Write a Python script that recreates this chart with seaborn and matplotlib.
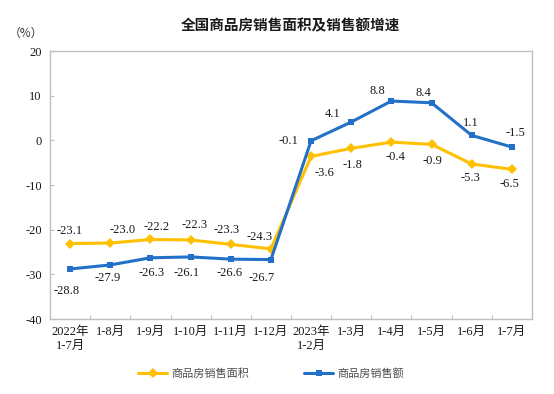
import matplotlib
matplotlib.use('Agg')
import matplotlib.pyplot as plt
import seaborn as sns
import pandas as pd
from matplotlib.ticker import FixedLocator

# ---- data ----
months = ["2022年\n1-7月", "1-8月", "1-9月", "1-10月", "1-11月", "1-12月",
          "2023年\n1-2月", "1-3月", "1-4月", "1-5月", "1-6月", "1-7月"]
area = [-23.1, -23.0, -22.2, -22.3, -23.3, -24.3, -3.6, -1.8, -0.4, -0.9, -5.3, -6.5]
amount = [-28.8, -27.9, -26.3, -26.1, -26.6, -26.7, -0.1, 4.1, 8.8, 8.4, 1.1, -1.5]
series_names = ["商品房销售面积", "商品房销售额"]
yticks = [20, 10, 0, -10, -20, -30, -40]
title = "全国商品房销售面积及销售额增速"
unit = "（%）"

# label offsets in pixels (styling only)
area_off = [(0, 13), (12, 13), (6, 12), (4, 15), (-4, 14), (-11, 12),
            (13, -17), (1, -17), (4, -15), (1, -17), (-1, -14), (-2, -15)]
amount_off = [(-3, -22), (-3, -13), (1, -15), (-4, -16), (-1, -14), (-9, -18),
              (-23, 0), (-19, 8), (-14, 10), (-8, 10), (-1, 12), (4, 14)]

sns.set_style('white')
SERIF = ['Liberation Serif', 'Noto Sans CJK SC']
CJK = ['Noto Sans CJK SC', 'DejaVu Sans']
plt.rcParams['font.family'] = SERIF

df = pd.DataFrame({
    'month': months * 2,
    'value': area + amount,
    'series': [series_names[0]] * len(area) + [series_names[1]] * len(amount),
})

W, H = 554, 394
fig = plt.figure(figsize=(W / 100, H / 100), dpi=100)
ax = fig.add_axes([50 / W, 1 - 319 / H, 482 / W, 268 / H])

colors = {series_names[0]: '#FFC000', series_names[1]: '#2370C8'}
sns.lineplot(data=df, x='month', y='value', hue='series', style='series',
             markers={series_names[0]: 'D', series_names[1]: 's'}, dashes=False,
             palette=colors, linewidth=2.2, markersize=5, markeredgewidth=0,
             sort=False, ax=ax, legend=True)

handles, labels = ax.get_legend_handles_labels()
ax.get_legend().remove()

ax.set_xlim(-0.5, len(months) - 0.5)
ax.set_ylim(-40, 20)
ax.set_yticks(yticks)
ax.set_yticklabels([str(v) for v in yticks], fontsize=9, family=SERIF)
ax.set_xticks(range(len(months)))
ax.set_xticklabels(months, fontsize=9, family=SERIF, linespacing=1.25)
ax.xaxis.set_minor_locator(FixedLocator([i + 0.5 for i in range(len(months) - 1)]))
ax.tick_params(axis='x', which='major', length=0, pad=5, colors='#1a1a1a')
ax.tick_params(axis='x', which='minor', direction='in', length=3, width=0.8,
               color='#BFBFBF', bottom=True)
ax.tick_params(axis='y', direction='in', length=3, width=0.8, color='#BFBFBF',
               pad=6, labelcolor='#1a1a1a', left=True)
ax.set_xlabel('')
ax.set_ylabel('')
for s in ax.spines.values():
    s.set_visible(True)
    s.set_color('#BFBFBF')
    s.set_linewidth(1.0)

# ---- data labels ----
for i, v in enumerate(area):
    ax.annotate(f"{v:.1f}", (i, v), xytext=area_off[i], textcoords='offset pixels',
                ha='center', va='center', fontsize=9, family=SERIF, color='#1a1a1a')
for i, v in enumerate(amount):
    ax.annotate(f"{v:.1f}", (i, v), xytext=amount_off[i], textcoords='offset pixels',
                ha='center', va='center', fontsize=9, family=SERIF, color='#1a1a1a')

# ---- title, unit, legend ----
fig.text(290 / W, 1 - 25 / H, title, ha='center', va='center', fontsize=10.5,
         family=CJK, fontweight='bold', color='#1a1a1a')
fig.text(26 / W, 1 - 33 / H, unit, ha='center', va='center', fontsize=8.5,
         family=CJK, color='#333333')

leg = fig.legend(handles, labels, loc='center', bbox_to_anchor=(271 / W, 1 - 374 / H),
                 ncol=2, frameon=False, handlelength=2.6, handletextpad=0.35,
                 columnspacing=5.0, prop={'family': CJK, 'size': 8})
for t in leg.get_texts():
    t.set_color('#4d4d4d')

fig.savefig('out.png', dpi=100)
